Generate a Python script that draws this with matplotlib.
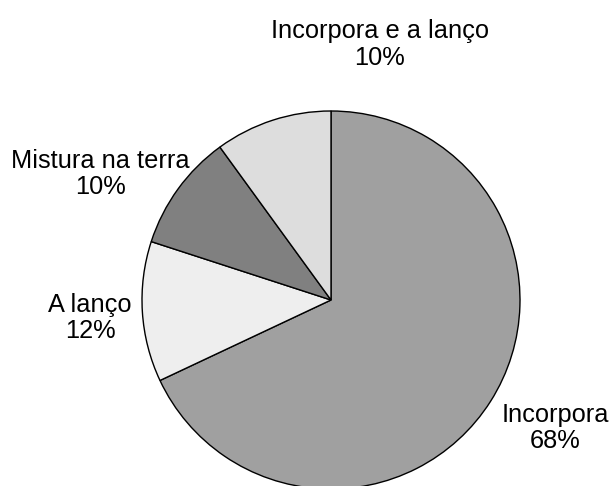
import matplotlib.pyplot as plt

# data
labels = ['Incorpora', 'A lanço', 'Mistura na terra', 'Incorpora e a lanço']
shares = [68, 12, 10, 10]
colors = ['#a0a0a0', '#eeeeee', '#808080', '#dddddd']
# label centres, in units of the pie radius
label_pos = [(1.185, -0.677), (-1.275, -0.095), (-1.222, 0.667), (0.259, 1.354)]

plt.rcParams['font.family'] = ['Liberation Sans', 'DejaVu Sans']

fig = plt.figure(figsize=(6.09, 4.86), dpi=100)
ax = fig.add_axes([0, 0, 1, 1])
ax.pie(shares, colors=colors, startangle=90, counterclock=False,
       radius=1, center=(0, 0),
       wedgeprops=dict(edgecolor='black', linewidth=1.0))

for lab, val, (x, y) in zip(labels, shares, label_pos):
    ax.text(x, y, f'{lab}\n{val}%', ha='center', va='center',
            fontsize=18.3, linespacing=1.15)

ax.set_xlim(-331 / 189, 278 / 189)
ax.set_ylim(-186 / 189, 300 / 189)
ax.set_aspect('equal')
ax.axis('off')

fig.savefig('out.png', dpi=100, facecolor='white')
